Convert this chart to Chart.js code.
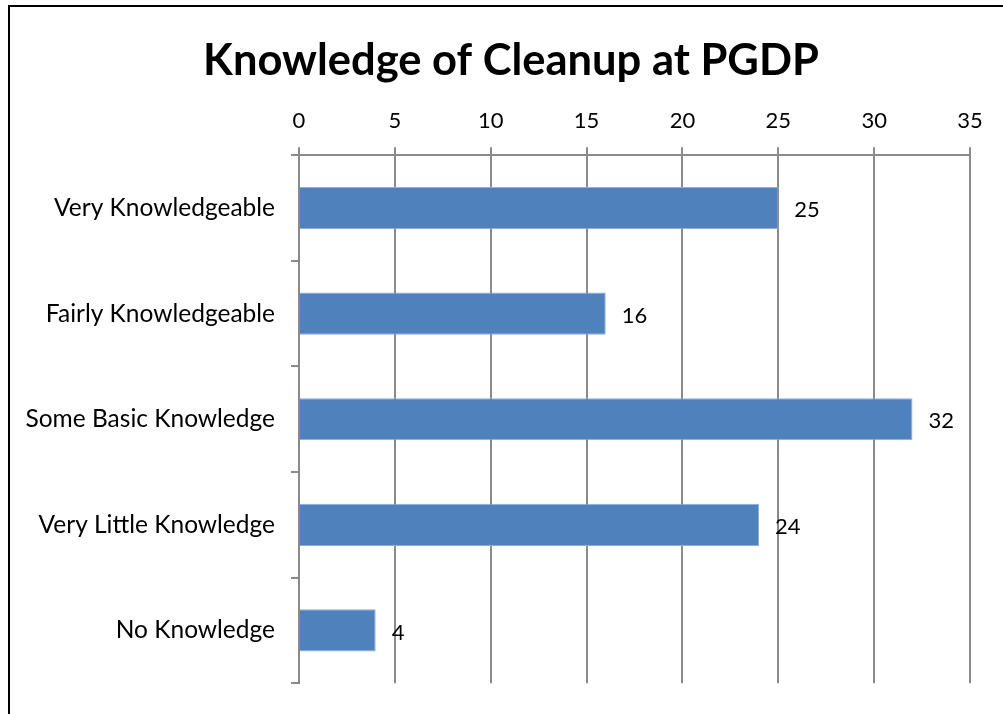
<!DOCTYPE html>
<html>
<head>
<meta charset="utf-8">
<script src="https://cdn.jsdelivr.net/npm/chart.js@4.4.0/dist/chart.umd.min.js"></script>
<style>
html,body{margin:0;padding:0;background:#fff;overflow:hidden;}
#wrap{position:relative;width:1003px;height:714px;overflow:hidden;}
#frame{position:absolute;left:8px;top:5px;width:1100px;height:900px;border:2px solid #000;box-sizing:border-box;pointer-events:none;}
canvas{position:absolute;left:0;top:0;}
</style>
</head>
<body>
<div id="wrap">
<canvas id="c" width="1003" height="714"></canvas>
<div id="frame"></div>
</div>
<script>
const categories = ["Very Knowledgeable","Fairly Knowledgeable","Some Basic Knowledge","Very Little Knowledge","No Knowledge"];
const values = [25,16,32,24,4];
const xTicks = [0,5,10,15,20,25,30,35];
const titleText = "Knowledge of Cleanup at PGDP";

const FONT = "Lato, 'Open Sans', sans-serif";
const gridColor = "#8a8a8a";

const valueLabels = {
  id: 'valueLabels',
  afterDatasetsDraw(chart) {
    const ctx = chart.ctx;
    const meta = chart.getDatasetMeta(0);
    ctx.save();
    ctx.font = "22px " + FONT;
    ctx.fillStyle = "#000";
    ctx.textBaseline = "middle";
    ctx.textAlign = "left";
    meta.data.forEach((el, i) => {
      ctx.fillText(String(values[i]), el.x + 16, el.y + 2);
    });
    ctx.restore();
  }
};

new Chart(document.getElementById('c'), {
  type: 'bar',
  data: {
    labels: categories,
    datasets: [{
      data: values,
      backgroundColor: '#4F81BD',
      borderColor: '#8FAEDA',
      borderWidth: 1,
      barPercentage: 0.4,
      categoryPercentage: 1.0
    }]
  },
  options: {
    indexAxis: 'y',
    responsive: false,
    animation: false,
    layout: { padding: { left: 52, right: 33, top: 0, bottom: 26 } },
    plugins: {
      legend: { display: false },
      tooltip: { enabled: false },
      title: {
        display: true,
        text: titleText,
        color: '#000',
        font: { family: FONT, size: 43.5, weight: 'bold' },
        padding: { top: 35, bottom: 7 }
      }
    },
    scales: {
      x: {
        position: 'top',
        min: 0, max: 35,
        afterBuildTicks(scale) { scale.ticks = xTicks.map(v => ({ value: v })); },
        afterFit(scale) { scale.height = 155 - 35 - Math.round(43.5 * 1.2) - 7; },
        ticks: { color: '#000', font: { family: FONT, size: 22 }, padding: 13 },
        grid: { color: gridColor, lineWidth: 2, tickLength: 8, drawTicks: true },
        border: { color: gridColor, width: 2 }
      },
      y: {
        afterFit(scale) {
          scale.width = 247;
          scale._computeLabelArea = () => undefined;
        },
        ticks: { color: '#000', font: { family: FONT, size: 24.5 }, padding: 16 },
        grid: { offset: true, drawOnChartArea: false, color: gridColor, lineWidth: 2, tickLength: 8 },
        border: { color: gridColor, width: 2 }
      }
    }
  },
  plugins: [valueLabels]
});
</script>
</body>
</html>
